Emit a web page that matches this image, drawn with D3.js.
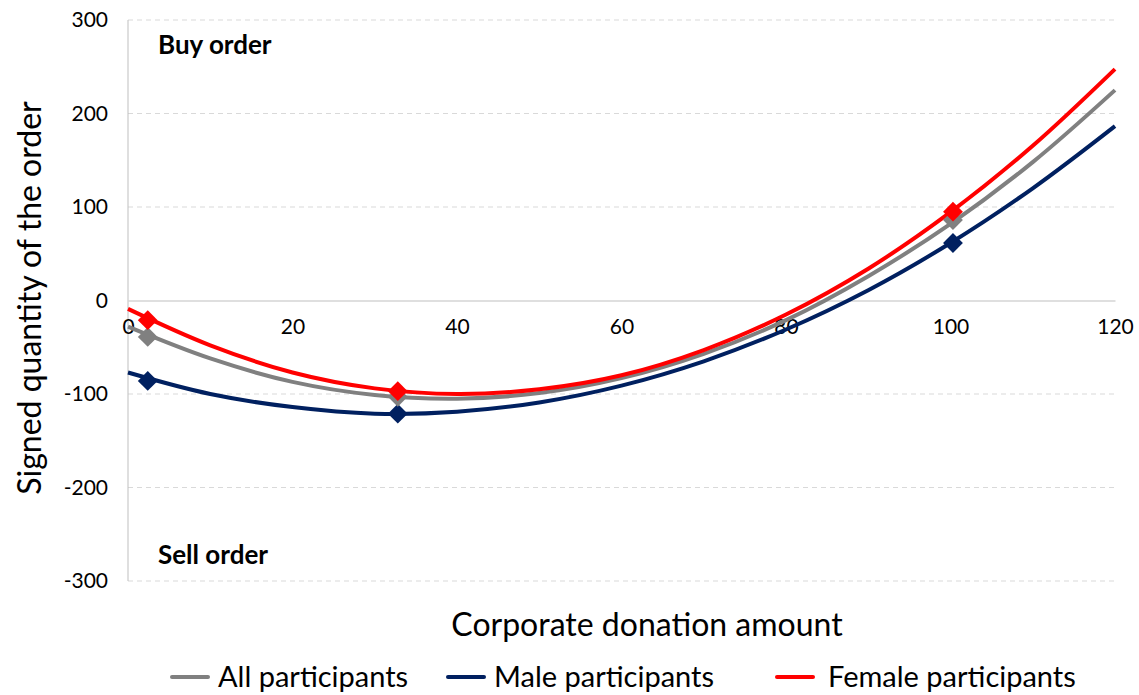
<!DOCTYPE html>
<html>
<head>
<meta charset="utf-8">
<script src="https://cdn.jsdelivr.net/npm/d3@7"></script>
<style>
  body { margin: 0; background: #fff; }
  svg text { font-family: Lato, "Open Sans", sans-serif; }
</style>
</head>
<body>
<div id="chart"></div>
<script>
(function() {
  // Data
  const seriesNames = ['All participants', 'Male participants', 'Female participants'];
  const seriesColors = ['#808080', '#002060', '#ff0000'];

  const markerX = [2.4, 32.8, 100.3];
  const allMarkers = [-39, -103, 86];
  const maleMarkers = [-86, -121, 61.5];
  const femaleMarkers = [-21, -97, 95];

  const curveX = [0, 10, 20, 30, 40, 50, 60, 70, 80, 90, 100, 110, 120];
  const allCurve = [-28, -62, -87, -101, -105, -99, -83, -57, -21, 26, 82, 148, 225];
  const maleCurve = [-77, -100, -114, -121, -119, -109, -91, -65, -31, 11, 61.5, 120, 186.5];
  const femaleCurve = [-9, -48, -77, -94, -100, -95, -80, -53, -15, 34, 94.5, 165.5, 247.5];

  const xTicks = [0, 20, 40, 60, 80, 100, 120];
  const yTicks = [300, 200, 100, 0, -100, -200, -300];

  const W = 1139, H = 695;
  const left = 128, right = 1115, top = 20, bottom = 581;

  const svg = d3.select('#chart').append('svg')
    .attr('width', W).attr('height', H);

  const x = d3.scaleLinear().domain([0, 120]).range([left, right]);
  const y = d3.scaleLinear().domain([-300, 300]).range([bottom, top]);
  const fmt = d => String(d); // plain hyphen for negatives

  // Grid lines
  svg.append('g')
    .selectAll('line')
    .data(yTicks.filter(d => d !== 0))
    .join('line')
    .attr('x1', left).attr('x2', right)
    .attr('y1', d => y(d)).attr('y2', d => y(d))
    .attr('stroke', '#d9d9d9').attr('stroke-width', 1)
    .attr('stroke-dasharray', '5,4');

  // Left axis line
  svg.append('line')
    .attr('x1', left).attr('x2', left)
    .attr('y1', top).attr('y2', bottom)
    .attr('stroke', '#bfbfbf').attr('stroke-width', 1);

  // Y tick labels
  svg.append('g')
    .attr('transform', `translate(${left},0)`)
    .call(d3.axisLeft(y).tickValues(yTicks).tickFormat(fmt).tickSize(0).tickPadding(20))
    .call(g => g.select('.domain').remove())
    .call(g => g.selectAll('text')
      .attr('font-size', '21px').attr('fill', '#000')
      .style('font-family', 'Lato, sans-serif'));

  // Zero line with x tick labels beneath
  svg.append('g')
    .attr('transform', `translate(0,${y(0)})`)
    .call(d3.axisBottom(x).tickValues(xTicks).tickFormat(fmt).tickSize(0).tickPadding(19))
    .call(g => g.select('.domain').attr('stroke', '#bfbfbf'))
    .call(g => g.selectAll('text')
      .attr('font-size', '21px').attr('fill', '#000')
      .style('font-family', 'Lato, sans-serif'));

  // Curves
  const line = d3.line()
    .x(d => x(d[0])).y(d => y(d[1]))
    .curve(d3.curveCatmullRom);

  const curves = [allCurve, maleCurve, femaleCurve];
  const markers = [allMarkers, maleMarkers, femaleMarkers];
  const drawOrder = [1, 0, 2];

  drawOrder.forEach(i => {
    svg.append('path')
      .datum(curveX.map((cx, j) => [cx, curves[i][j]]))
      .attr('fill', 'none')
      .attr('stroke', seriesColors[i])
      .attr('stroke-width', 4)
      .attr('d', line);
  });

  const diamond = d3.symbol().type(d3.symbolDiamond2).size(250);
  drawOrder.forEach(i => {
    svg.append('g')
      .selectAll('path')
      .data(markerX.map((mx, j) => [mx, markers[i][j]]))
      .join('path')
      .attr('d', diamond)
      .attr('transform', d => `translate(${x(d[0])},${y(d[1])})`)
      .attr('fill', seriesColors[i]);
  });

  // Annotations
  svg.append('text')
    .attr('x', 158).attr('y', 54)
    .attr('font-size', '26px').attr('font-weight', 700)
    .text('Buy order');

  svg.append('text')
    .attr('x', 158).attr('y', 564)
    .attr('font-size', '26px').attr('font-weight', 700)
    .text('Sell order');

  // Axis titles
  svg.append('text')
    .attr('x', 647).attr('y', 636)
    .attr('text-anchor', 'middle')
    .attr('font-size', '32px')
    .text('Corporate donation amount');

  svg.append('text')
    .attr('transform', 'rotate(-90)')
    .attr('x', -298).attr('y', 41)
    .attr('text-anchor', 'middle')
    .attr('font-size', '32px')
    .text('Signed quantity of the order');

  // Legend
  const legendLineX = [172, 448, 777];
  const legendTextX = [218, 494, 828];
  const legend = svg.append('g');
  seriesNames.forEach((name, i) => {
    legend.append('line')
      .attr('x1', legendLineX[i]).attr('x2', legendLineX[i] + 36)
      .attr('y1', 677).attr('y2', 677)
      .attr('stroke', seriesColors[i]).attr('stroke-width', 4)
      .attr('stroke-linecap', 'round');
    legend.append('text')
      .attr('x', legendTextX[i]).attr('y', 687)
      .attr('font-size', '29px')
      .text(name);
  });
})();
</script>
</body>
</html>
